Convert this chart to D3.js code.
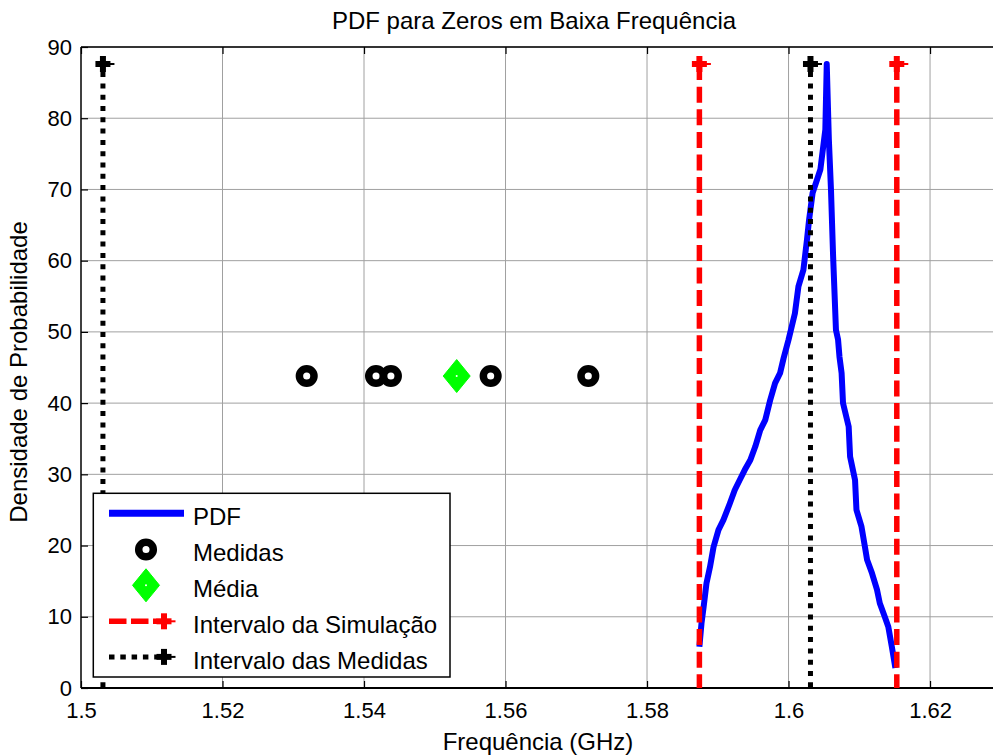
<!DOCTYPE html>
<html>
<head>
<meta charset="utf-8">
<script src="https://cdn.jsdelivr.net/npm/d3@7"></script>
<style>
  html, body { margin: 0; padding: 0; background: #fff; }
  svg { display: block; font-family: "Liberation Sans", Arial, sans-serif; }
</style>
</head>
<body>
<svg id="chart" width="993" height="755"></svg>
<script>
// ---------------- data ----------------
const titleText = "PDF para Zeros em Baixa Frequência";
const xLabelText = "Frequência (GHz)";
const yLabelText = "Densidade de Probabilidade";

const xTicks = [1.5, 1.52, 1.54, 1.56, 1.58, 1.6, 1.62];
const xTickLabels = ["1.5", "1.52", "1.54", "1.56", "1.58", "1.6", "1.62"];
const yTicks = [0, 10, 20, 30, 40, 50, 60, 70, 80, 90];
const yTickLabels = ["0", "10", "20", "30", "40", "50", "60", "70", "80", "90"];

// PDF curve
const pdfFreq = [1.5874, 1.5877, 1.5880, 1.5884, 1.5889, 1.5894, 1.5901, 1.5908, 1.5917, 1.5924,
                 1.5931, 1.5938, 1.5946, 1.5953, 1.5960, 1.5967, 1.5974, 1.5981, 1.5988, 1.5993,
                 1.6000, 1.6009, 1.6014, 1.6021, 1.6026, 1.6029, 1.6034, 1.6040, 1.6045, 1.6052,
                 1.6054, 1.6057, 1.6060, 1.6063, 1.6067, 1.6070, 1.6072, 1.6075, 1.6077, 1.6085,
                 1.6087, 1.6094, 1.6096, 1.6103, 1.6108, 1.6111, 1.6118, 1.6125, 1.6129, 1.6136,
                 1.6141, 1.6146, 1.6151];
const pdfDens = [5.8, 9.1, 11.4, 14.7, 17.0, 19.8, 22.2, 23.6, 25.9, 27.8,
                 29.2, 30.6, 32.0, 33.9, 36.2, 37.6, 40.4, 42.8, 44.2, 46.3,
                 48.9, 52.6, 56.4, 58.7, 62.9, 65.7, 69.5, 71.3, 72.8, 78.4,
                 87.6, 77.0, 69.9, 60.6, 50.3, 48.9, 46.5, 44.2, 40.0, 36.7,
                 32.5, 29.2, 25.0, 22.7, 19.8, 18.0, 16.1, 13.8, 11.9, 10.0,
                 8.6, 5.8, 2.8];

// Measurements
const medidasFreq = [1.5319, 1.5417, 1.5438, 1.5579, 1.5717];
const medidasDens = [43.8, 43.8, 43.8, 43.8, 43.8];
const mediaFreq = [1.5531];
const mediaDens = [43.8];

// Intervals
const simIntervalFreq = [1.5874, 1.6153];
const measIntervalFreq = [1.5031, 1.6031];
const intervalTop = 87.6;

const legendLabels = ["PDF", "Medidas", "Média", "Intervalo da Simulação", "Intervalo das Medidas"];

// ---------------- layout ----------------
const svg = d3.select("#chart");
const L = 81, T = 47, B = 688, R = 1000.8;
const x = d3.scaleLinear().domain([1.5, 1.63]).range([L, R]);
const y = d3.scaleLinear().domain([0, 90]).range([B, T]);
const FS = 22;      // tick labels
const FS2 = 24;     // title, axis labels, legend
const gridColor = "#a0a0a0";

// grid
const grid = svg.append("g");
grid.selectAll(".gx").data(xTicks.slice(1)).enter().append("line")
  .attr("x1", d => x(d)).attr("x2", d => x(d)).attr("y1", T).attr("y2", B)
  .attr("stroke", gridColor).attr("stroke-width", 1);
grid.selectAll(".gy").data(yTicks.slice(1)).enter().append("line")
  .attr("x1", L).attr("x2", R).attr("y1", d => y(d)).attr("y2", d => y(d))
  .attr("stroke", gridColor).attr("stroke-width", 1);

// axes
const xAxis = d3.axisBottom(x).tickValues(xTicks).tickFormat((d, i) => xTickLabels[i])
  .tickSize(-7).tickPadding(14.4);
const gx = svg.append("g").attr("transform", `translate(0,${B})`).call(xAxis);
const xTop = d3.axisTop(x).tickValues(xTicks).tickFormat("").tickSize(-7);
const gxt = svg.append("g").attr("transform", `translate(0,${T})`).call(xTop);
const yAxis = d3.axisLeft(y).tickValues(yTicks).tickFormat((d, i) => yTickLabels[i])
  .tickSize(-7).tickPadding(9);
const gy = svg.append("g").attr("transform", `translate(${L},0)`).call(yAxis);
[gx, gxt, gy].forEach(g => {
  g.select(".domain").remove();
  g.selectAll(".tick line").attr("stroke", "#000").attr("stroke-width", 1.2);
  g.selectAll(".tick text").attr("font-size", FS).attr("fill", "#000")
    .attr("font-family", "Liberation Sans, Arial, sans-serif");
});

// box lines
svg.append("line").attr("x1", L).attr("x2", R).attr("y1", T).attr("y2", T).attr("stroke", "#000").attr("stroke-width", 1.5);
svg.append("line").attr("x1", L).attr("x2", R).attr("y1", B).attr("y2", B).attr("stroke", "#000").attr("stroke-width", 2);
svg.append("line").attr("x1", L).attr("x2", L).attr("y1", T).attr("y2", B).attr("stroke", "#000").attr("stroke-width", 1.5);

// plot clip
svg.append("clipPath").attr("id", "clip").append("rect")
  .attr("x", L).attr("y", T).attr("width", R - L).attr("height", B - T);
const plot = svg.append("g").attr("clip-path", "url(#clip)");

// PDF line
const pdfData = pdfFreq.map((f, i) => [f, pdfDens[i]]);
plot.append("path").datum(pdfData)
  .attr("d", d3.line().x(d => x(d[0])).y(d => y(d[1])))
  .attr("fill", "none").attr("stroke", "#0000ff").attr("stroke-width", 6)
  .attr("stroke-linejoin", "round");

// marker helpers
function ring(g, cx, cy) {
  g.append("circle").attr("cx", cx).attr("cy", cy).attr("r", 7.3)
    .attr("fill", "none").attr("stroke", "#000").attr("stroke-width", 7.5);
}
function diamond(g, cx, cy) {
  g.append("path").attr("d", `M${cx},${cy - 16.5}L${cx + 13.5},${cy}L${cx},${cy + 16.5}L${cx - 13.5},${cy}Z`)
    .attr("fill", "#00ff00").attr("stroke", "#00ff00").attr("stroke-width", 1);
  g.append("circle").attr("cx", cx).attr("cy", cy).attr("r", 1).attr("fill", "#fff");
}
function plus(g, cx, cy, color) {
  g.append("line").attr("x1", cx - 7.5).attr("x2", cx + 7.5).attr("y1", cy).attr("y2", cy)
    .attr("stroke", color).attr("stroke-width", 6);
  g.append("line").attr("x1", cx).attr("x2", cx).attr("y1", cy - 8).attr("y2", cy + 8)
    .attr("stroke", color).attr("stroke-width", 6);
  g.append("line").attr("x1", cx).attr("x2", cx + 11.5).attr("y1", cy).attr("y2", cy)
    .attr("stroke", color).attr("stroke-width", 2);
}

// medidas & média
medidasFreq.forEach((f, i) => ring(plot, x(f), y(medidasDens[i])));
mediaFreq.forEach((f, i) => diamond(plot, x(f), y(mediaDens[i])));

// intervals
simIntervalFreq.forEach(f => {
  plot.append("line").attr("x1", x(f)).attr("x2", x(f)).attr("y1", y(intervalTop)).attr("y2", y(0))
    .attr("stroke", "#ff0000").attr("stroke-width", 5.5).attr("stroke-dasharray", "16,6.6");
  plus(plot, x(f), y(intervalTop), "#ff0000");
});
measIntervalFreq.forEach(f => {
  plot.append("line").attr("x1", x(f)).attr("x2", x(f)).attr("y1", y(intervalTop) + 8).attr("y2", y(0))
    .attr("stroke", "#000").attr("stroke-width", 5).attr("stroke-dasharray", "5,6.3");
  plus(plot, x(f), y(intervalTop), "#000");
});

// legend
const lg = svg.append("g");
lg.append("rect").attr("x", 93.3).attr("y", 493.3).attr("width", 450 - 93.3).attr("height", 677 - 493.3)
  .attr("fill", "#fff").attr("stroke", "#000").attr("stroke-width", 1.5);
const rowY = [513.3, 549.5, 585.3, 621.3, 656.9];
lg.append("line").attr("x1", 109).attr("x2", 184).attr("y1", rowY[0]).attr("y2", rowY[0])
  .attr("stroke", "#0000ff").attr("stroke-width", 7);
ring(lg, 146, rowY[1]);
diamond(lg, 146, rowY[2]);
lg.append("line").attr("x1", 109).attr("x2", 157).attr("y1", rowY[3]).attr("y2", rowY[3])
  .attr("stroke", "#ff0000").attr("stroke-width", 5.5).attr("stroke-dasharray", "17.5,4.5");
plus(lg, 164, rowY[3], "#ff0000");
lg.append("line").attr("x1", 109).attr("x2", 157).attr("y1", rowY[4]).attr("y2", rowY[4])
  .attr("stroke", "#000").attr("stroke-width", 5).attr("stroke-dasharray", "5.5,5.8");
plus(lg, 164, rowY[4], "#000");
legendLabels.forEach((t, i) => {
  lg.append("text").attr("x", 193).attr("y", rowY[i] + 11.8).attr("font-size", FS2)
    .attr("fill", "#000").text(t);
});

// title & labels
svg.append("text").attr("x", 534).attr("y", 29).attr("text-anchor", "middle")
  .attr("font-size", FS2).attr("fill", "#000").text(titleText);
svg.append("text").attr("x", 538).attr("y", 750).attr("text-anchor", "middle")
  .attr("font-size", FS2).attr("fill", "#000").text(xLabelText);
svg.append("text").attr("transform", "translate(27,372) rotate(-90)").attr("text-anchor", "middle")
  .attr("font-size", FS2).attr("fill", "#000").text(yLabelText);
</script>
</body>
</html>
